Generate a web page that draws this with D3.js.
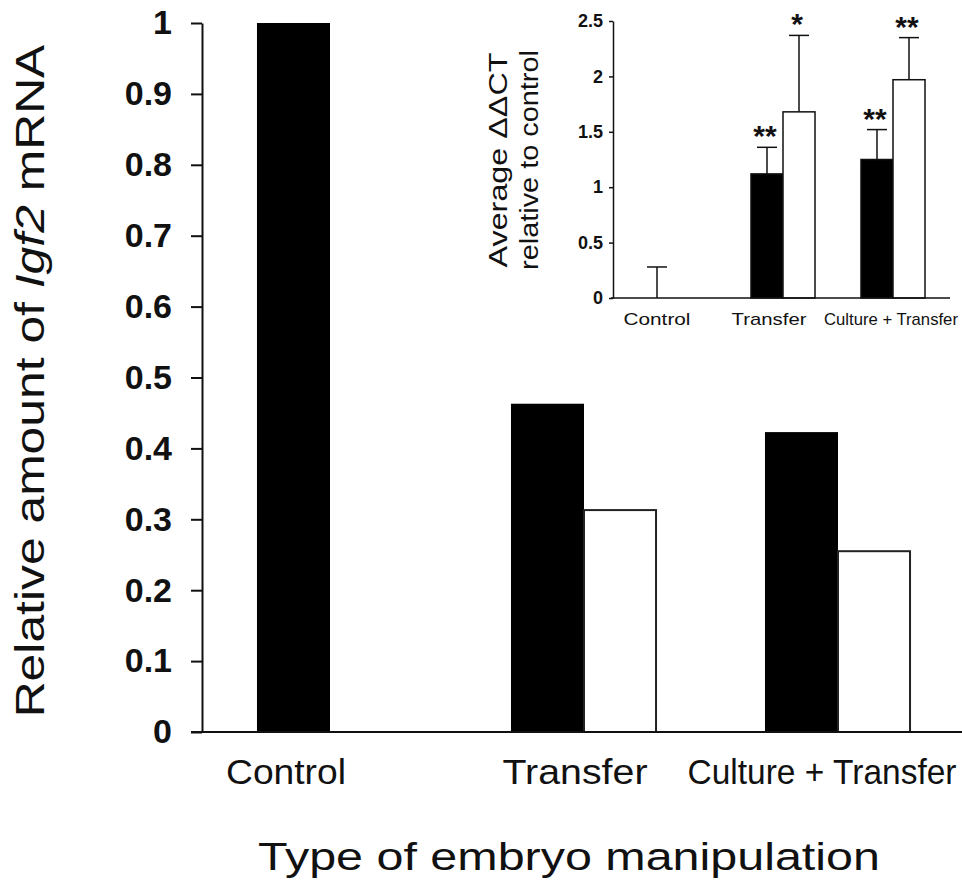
<!DOCTYPE html>
<html>
<head>
<meta charset="utf-8">
<script src="https://cdn.jsdelivr.net/npm/d3@7"></script>
<style>
  body { margin: 0; background: #fff; }
  text { font-family: "Liberation Sans", Arial, sans-serif; fill: #111; }
</style>
</head>
<body>
<div id="chart"></div>
<script>
// data
const categories = ["Control", "Transfer", "Culture + Transfer"]
const mainBlack = [1.0, 0.463, 0.423]
const mainWhite = [null, 0.313, 0.255]
const mainTicks = [0, 0.1, 0.2, 0.3, 0.4, 0.5, 0.6, 0.7, 0.8, 0.9, 1]

const insetBlack = [0, 1.12, 1.25]
const insetBlackErr = [0.28, 0.24, 0.27]
const insetWhite = [null, 1.68, 1.97]
const insetWhiteErr = [null, 0.69, 0.38]
const insetBlackStars = ["", "**", "**"]
const insetWhiteStars = ["", "*", "**"]
const insetTicks = [0, 0.5, 1, 1.5, 2, 2.5]

const WIDTH = 962
const HEIGHT = 885

const svg = d3.select("#chart")
              .append("svg")
              .attr("width", WIDTH)
              .attr("height", HEIGHT)

// stretch a text to a measured width (the figure's lettering is elongated)
function fit(sel, target) {
  const w = sel.node().getComputedTextLength()
  return target / w
}

function placedText(parent, str, size, weight, cx, by, target, rotate) {
  const g = parent.append("g")
  const t = g.append("text")
             .attr("text-anchor", "middle")
             .attr("font-size", size)
             .attr("font-weight", weight)
  if (typeof str === "string") t.text(str)
  else str(t)
  const k = target ? fit(t, target) : 1
  g.attr("transform", `translate(${cx},${by}) rotate(${rotate || 0}) scale(${k},1)`)
  return g
}

// ---------- main chart ----------
const y = d3.scaleLinear()
            .domain([0, 1])
            .range([732, 23])

const x = d3.scaleBand()
            .domain(categories)
            .range([203, 965])
            .paddingInner(0.425)
            .paddingOuter(0.2125)

const xSub = d3.scaleBand()
               .domain(["black", "white"])
               .range([0, x.bandwidth()])

const main = svg.append("g")

const yAxis = d3.axisLeft(y)
                .tickValues(mainTicks)
                .tickFormat(d3.format("~g"))
                .tickSizeInner(11)
                .tickSizeOuter(0)
                .tickPadding(19)

const yAxisGroup = main.append("g")
                       .attr("transform", "translate(202,0)")
                       .call(yAxis)
yAxisGroup.selectAll("path, line").attr("stroke", "#111").attr("stroke-width", 2)
yAxisGroup.selectAll("text")
          .attr("font-size", 34)
          .attr("font-weight", "bold")
          .attr("font-family", "'Liberation Sans', Arial, sans-serif")
          .attr("fill", "#111")

const blackRows = categories.map((c, i) => ({ cat: c, v: mainBlack[i] }))
const whiteRows = categories.map((c, i) => ({ cat: c, v: mainWhite[i] })).filter(d => d.v !== null)

main.selectAll("rect.black")
    .data(blackRows)
    .enter()
    .append("rect")
    .attr("class", "black")
    .attr("x", d => x(d.cat) + xSub("black"))
    .attr("width", xSub.bandwidth())
    .attr("y", d => y(d.v))
    .attr("height", d => y(0) - y(d.v))
    .attr("fill", "#000")

main.selectAll("rect.white")
    .data(whiteRows)
    .enter()
    .append("rect")
    .attr("class", "white")
    .attr("x", d => x(d.cat) + xSub("white"))
    .attr("width", xSub.bandwidth() - 1)
    .attr("y", d => y(d.v))
    .attr("height", d => y(0) - y(d.v))
    .attr("fill", "#fff")
    .attr("stroke", "#222")
    .attr("stroke-width", 2)

// x axis line
main.append("line")
    .attr("x1", 191)
    .attr("x2", WIDTH)
    .attr("y1", y(0))
    .attr("y2", y(0))
    .attr("stroke", "#111")
    .attr("stroke-width", 2)

// category labels
const mainLabelDx = [-44, -9, -16]
const mainLabelW = [120, 145, 269]
categories.forEach((c, i) => {
  placedText(main, c, 35, "normal", x(c) + x.bandwidth() / 2 + mainLabelDx[i], 784, mainLabelW[i])
})

// axis titles
placedText(main, "Type of embryo manipulation", 39, "normal", 569, 870, 622)
placedText(main, t => {
  t.append("tspan").text("Relative amount of ")
  t.append("tspan").attr("font-style", "italic").text("Igf2")
  t.append("tspan").text(" mRNA")
}, 41, "normal", 44, 381, 673, -90)

// ---------- inset ----------
const yIn = d3.scaleLinear()
              .domain([0, 2.5])
              .range([298, 21])

const xIn = d3.scaleBand()
              .domain(categories)
              .range([613, 953])
              .paddingInner(0.418)
              .paddingOuter(0.2545)

const xInSub = d3.scaleBand()
                 .domain(["black", "white"])
                 .range([0, xIn.bandwidth()])

const inset = svg.append("g")

const yInAxis = d3.axisLeft(yIn)
                  .tickValues(insetTicks)
                  .tickFormat(d3.format("~g"))
                  .tickSizeInner(4)
                  .tickSizeOuter(0)
                  .tickPadding(6)

const yInGroup = inset.append("g")
                      .attr("transform", "translate(613,0)")
                      .call(yInAxis)
yInGroup.selectAll("path, line").attr("stroke", "#111").attr("stroke-width", 1.5)
yInGroup.selectAll("text")
        .attr("font-size", 18)
        .attr("font-weight", "bold")
        .attr("font-family", "'Liberation Sans', Arial, sans-serif")
        .attr("fill", "#111")

const inBlack = categories.map((c, i) => ({ cat: c, v: insetBlack[i], e: insetBlackErr[i], s: insetBlackStars[i], k: "black" }))
const inWhite = categories.map((c, i) => ({ cat: c, v: insetWhite[i], e: insetWhiteErr[i], s: insetWhiteStars[i], k: "white" }))
                          .filter(d => d.v !== null)
const inAll = inBlack.concat(inWhite)

const cx = d => xIn(d.cat) + xInSub(d.k) + xInSub.bandwidth() / 2

// error bars drawn first so bars sit over their lower part
inset.selectAll("line.err")
     .data(inAll)
     .enter()
     .append("line")
     .attr("class", "err")
     .attr("x1", cx)
     .attr("x2", cx)
     .attr("y1", d => yIn(d.v))
     .attr("y2", d => yIn(d.v + d.e))
     .attr("stroke", "#111")
     .attr("stroke-width", 1.5)

inset.selectAll("line.cap")
     .data(inAll)
     .enter()
     .append("line")
     .attr("class", "cap")
     .attr("x1", d => cx(d) - 10)
     .attr("x2", d => cx(d) + 10)
     .attr("y1", d => yIn(d.v + d.e))
     .attr("y2", d => yIn(d.v + d.e))
     .attr("stroke", "#111")
     .attr("stroke-width", 1.5)

inset.selectAll("rect.bar")
     .data(inAll.filter(d => d.v > 0))
     .enter()
     .append("rect")
     .attr("class", "bar")
     .attr("x", d => xIn(d.cat) + xInSub(d.k))
     .attr("width", xInSub.bandwidth())
     .attr("y", d => yIn(d.v))
     .attr("height", d => yIn(0) - yIn(d.v))
     .attr("fill", d => d.k === "black" ? "#000" : "#fff")
     .attr("stroke", "#111")
     .attr("stroke-width", 1.5)

inset.selectAll("text.star")
     .data(inAll.filter(d => d.s))
     .enter()
     .append("text")
     .attr("class", "star")
     .attr("x", d => cx(d) - 2)
     .attr("y", d => yIn(d.v + d.e) - 1)
     .attr("text-anchor", "middle")
     .attr("font-size", 30)
     .attr("font-weight", "bold")
     .text(d => d.s)

inset.append("line")
     .attr("x1", 611)
     .attr("x2", 950)
     .attr("y1", yIn(0))
     .attr("y2", yIn(0))
     .attr("stroke", "#111")
     .attr("stroke-width", 1.5)

const insetLabelDx = [-16, -14, -2]
const insetLabelW = [67, 75, 134]
categories.forEach((c, i) => {
  placedText(inset, c, 17, "normal", xIn(c) + xIn.bandwidth() / 2 + insetLabelDx[i], 325, insetLabelW[i])
})

placedText(inset, "Average \u0394\u0394CT", 25, "normal", 507, 160, 215, -90)
placedText(inset, "relative to control", 25, "normal", 538, 160, 220, -90)
</script>
</body>
</html>
